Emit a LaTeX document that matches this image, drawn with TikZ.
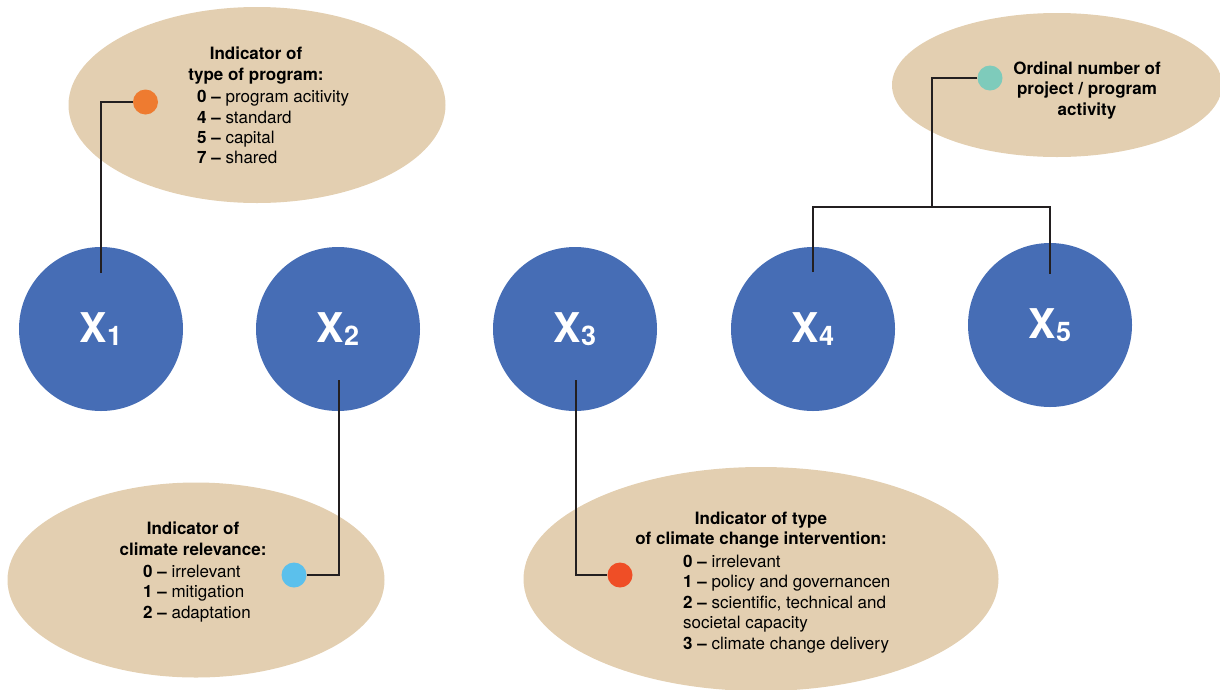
\documentclass[tikz,border=0pt]{standalone}
\usepackage{fontspec}
\setmainfont{TeX Gyre Heros}
\usetikzlibrary{shapes.geometric}
\definecolor{sand}{HTML}{E3CFB1}
\definecolor{xblue}{HTML}{466DB5}
\definecolor{dorange}{HTML}{EE7B30}
\definecolor{dteal}{HTML}{7ECBBB}
\definecolor{dsky}{HTML}{5BC0EC}
\definecolor{dred}{HTML}{EF4E26}
\definecolor{wire}{HTML}{231F20}
\begin{document}
\begin{tikzpicture}[x=1pt,y=-1pt,
  blob/.style={ellipse, fill=sand, inner sep=0},
  xnode/.style={circle, fill=xblue, minimum size=164pt, inner sep=0, text=white},
  dot/.style={circle, minimum size=25pt, inner sep=0},
  link/.style={draw=wire, line width=1.2pt},
  txt/.style={anchor=base, inner sep=0, font=\fontsize{17}{20.5}\selectfont},
  head/.style={txt, font=\fontsize{17}{20.5}\selectfont\bfseries},
  item/.style={txt, anchor=base west}]
\useasboundingbox (0,0) rectangle (1220,689);
\newcommand{\xlab}[1]{{\fontsize{41}{41}\selectfont\bfseries X}\raisebox{-3pt}{\fontsize{27}{27}\selectfont\bfseries #1}}
\newcommand{\num}[1]{{\bfseries #1 --} }
% info ellipses
\node[blob, minimum width=377pt, minimum height=196pt] (bprog) at (257,105){};
\node[blob, minimum width=330pt, minimum height=144pt] (bord) at (1057,85){};
\node[blob, minimum width=377pt, minimum height=195pt] (brel) at (196,580){};
\node[blob, minimum width=475pt, minimum height=224pt] (bcci) at (761,579){};
% variables
\node[xnode] (x1) at (101,329){\xlab{1}};
\node[xnode] (x2) at (338,329){\xlab{2}};
\node[xnode] (x3) at (575,329){\xlab{3}};
\node[xnode] (x4) at (813,329){\xlab{4}};
\node[xnode] (x5) at (1050,325){\xlab{5}};
% type of program
\node[head] (tp1) at (256,59){Indicator of};
\node[head] (tp2) at (256,80){type of program:};
\node[item] (tp3) at (197,102){\num{0}program acitivity};
\node[item] (tp4) at (197,123){\num{4}standard};
\node[item] (tp5) at (197,143){\num{5}capital};
\node[item] (tp6) at (197,163){\num{7}shared};
\node[dot, fill=dorange] (dprog) at (145.5,102){};
% ordinal number
\node[head] (on1) at (1087,74){Ordinal number of};
\node[head] (on2) at (1087,94.5){project / program};
\node[head] (on3) at (1087,115){activity};
\node[dot, fill=dteal] (dord) at (990,78){};
% climate relevance
\node[head] (cr1) at (193,534){Indicator of};
\node[head] (cr2) at (193,555){climate relevance:};
\node[item] (cr3) at (143,577){\num{0}irrelevant};
\node[item] (cr4) at (143,597.5){\num{1}mitigation};
\node[item] (cr5) at (143,618){\num{2}adaptation};
\node[dot, fill=dsky] (drel) at (294,575){};
% climate change intervention
\node[head] (ci1) at (761,524){Indicator of type};
\node[head] (ci2) at (761,544.5){of climate change intervention:};
\node[item] (ci3) at (683,567){\num{0}irrelevant};
\node[item] (ci4) at (683,587.5){\num{1}policy and governancen};
\node[item] (ci5) at (683,608){\num{2}scientific, technical and};
\node[item] (ci6) at (683,628.5){societal capacity};
\node[item] (ci7) at (683,649){\num{3}climate change delivery};
\node[dot, fill=dred] (dcci) at (620,575){};
% connectors
\coordinate (x1top) at (101,273);
\coordinate (x2bot) at (339,380);
\coordinate (x3bot) at (576,380);
\coordinate (x4top) at (813,272);
\coordinate (x5top) at (1050,274);
\coordinate (fork) at (932,207);
\draw[link] (dprog.west) -| (x1top);
\draw[link] (x2bot) |- (drel.east);
\draw[link] (x3bot) |- (dcci.west);
\draw[link] (dord.west) -| (fork);
\draw[link] (x4top) |- (fork) -| (x5top);
\end{tikzpicture}
\end{document}
